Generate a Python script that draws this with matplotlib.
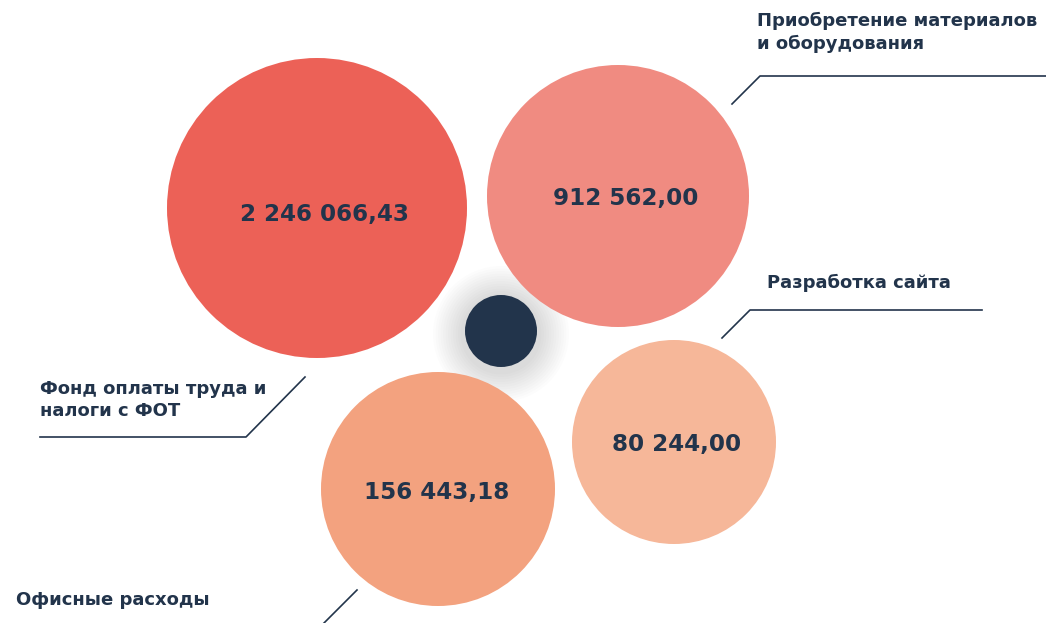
import matplotlib.pyplot as plt
from matplotlib.patches import Circle

# data
categories = ['Фонд оплаты труда и\nналоги с ФОТ', 'Приобретение материалов\nи оборудования',
              'Разработка сайта', 'Офисные расходы']
values = [2246066.43, 912562.00, 80244.00, 156443.18]

# layout (pixels)
centers = [(317, 208), (618, 196), (674, 442), (438, 489)]
radii = [150, 131, 102, 117]
text_shift = [(8, 7), (8, 3), (3, 2), (-1, 3)]
colors = ['#EC6157', '#F08B81', '#F6B799', '#F3A27F']
dark = '#22344B'

plt.rcParams['font.family'] = ['DejaVu Sans']

def fmt(v):
    s = '{:,.2f}'.format(v)
    return s.replace(',', ' ').replace('.', ',')

fig = plt.figure(figsize=(10.46, 6.23), dpi=100)
ax = fig.add_axes([0, 0, 1, 1])
ax.set_xlim(0, 1046)
ax.set_ylim(623, 0)
ax.set_aspect('equal')
ax.axis('off')

# soft shadow around the centre dot, under the bubbles
for k in range(12):
    ax.add_patch(Circle((501, 334), 38 + 2.5 * (12 - k), color='#000000', alpha=0.011, lw=0, zorder=1))

for (cx, cy), r, c, v, (dx, dy) in zip(centers, radii, colors, values, text_shift):
    ax.add_patch(Circle((cx, cy), r, color=c, lw=0, zorder=2))
    ax.text(cx + dx, cy + dy, fmt(v), ha='center', va='center', fontsize=16.6,
            fontweight='bold', color=dark, zorder=5)

ax.add_patch(Circle((501, 331), 36, color=dark, lw=0, zorder=4))

# leader lines
ax.plot([732, 760, 1046], [104, 76, 76], color=dark, lw=1.2, zorder=1)
ax.plot([722, 750, 982], [338, 310, 310], color=dark, lw=1.2, zorder=1)
ax.plot([40, 246, 305], [437, 437, 377], color=dark, lw=1.2, zorder=1)
ax.plot([357, 323], [590, 624], color=dark, lw=1.2, zorder=1)

lab_kw = dict(fontsize=13, fontweight='bold', color=dark, va='top', ha='left', linespacing=1.3)
ax.text(757, 12, categories[1], **lab_kw)
ax.text(767, 274, categories[2], **lab_kw)
ax.text(40, 380, categories[0], **lab_kw)
ax.text(16, 591, categories[3], **lab_kw)

fig.savefig('out.png', dpi=100)
